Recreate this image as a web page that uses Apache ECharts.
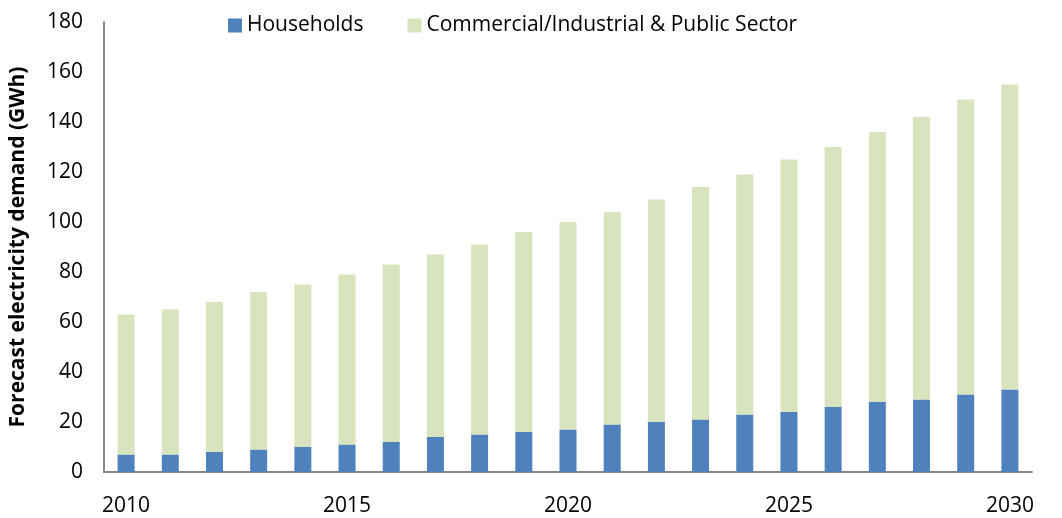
<!DOCTYPE html>
<html>
<head>
<meta charset="utf-8">
<title>Forecast electricity demand</title>
<script src="https://cdn.jsdelivr.net/npm/echarts@6/dist/echarts.min.js"></script>
<style>
  html, body { margin: 0; padding: 0; background: #fff; }
  #chart { width: 1062px; height: 518px; }
</style>
</head>
<body>
<div id="chart"></div>
<script>
// years on the x axis
var years = ['2010', '2011', '2012', '2013', '2014', '2015', '2016', '2017', '2018', '2019',
  '2020', '2021', '2022', '2023', '2024', '2025', '2026', '2027', '2028', '2029', '2030']
// GWh
var households = [7, 7, 8, 9, 10, 11, 12, 14, 15, 16, 17, 19, 20, 21, 23, 24, 26, 28, 29, 31, 33]
var commercial = [56, 58, 60, 63, 65, 68, 71, 73, 76, 80, 83, 85, 89, 93, 96, 101, 104, 108, 113, 118, 122]
var seriesNames = ['Households', 'Commercial/Industrial & Public Sector']
var yAxisTitle = 'Forecast electricity demand (GWh)'

var font = '"Open Sans", "Noto Sans", sans-serif'
var chart = echarts.init(document.getElementById('chart'))

var option = {
  backgroundColor: '#ffffff',
  animation: false,
  textStyle: { fontFamily: font },
  legend: {
    data: seriesNames,
    left: 223,
    top: 10,
    itemWidth: 14,
    itemHeight: 14,
    itemGap: 44,
    icon: 'rect',
    textStyle: { fontSize: 21, color: '#000', fontFamily: font }
  },
  grid: {
    left: 100,
    right: 30,
    top: 22,
    bottom: 46
  },
  xAxis: {
    type: 'category',
    data: years,
    axisLine: { lineStyle: { color: '#868686', width: 2 } },
    axisTick: { show: false },
    axisLabel: {
      interval: 4,
      margin: 24,
      fontSize: 21,
      color: '#000',
      fontFamily: font
    }
  },
  yAxis: {
    type: 'value',
    min: 0,
    max: 180,
    interval: 20,
    name: yAxisTitle,
    nameLocation: 'middle',
    nameGap: 75,
    nameRotate: 90,
    nameTextStyle: { fontSize: 21, fontWeight: 'bold', color: '#000', fontFamily: font },
    axisLine: { show: true, lineStyle: { color: '#868686', width: 2 } },
    axisTick: { show: false },
    splitLine: { show: false },
    axisLabel: {
      margin: 21,
      fontSize: 21,
      color: '#000',
      fontFamily: font
    }
  },
  series: [
    {
      name: seriesNames[0],
      type: 'bar',
      stack: 'total',
      barWidth: 17,
      itemStyle: { color: '#4F81BD' },
      data: households
    },
    {
      name: seriesNames[1],
      type: 'bar',
      stack: 'total',
      barWidth: 17,
      itemStyle: { color: '#D7E4BD' },
      data: commercial
    }
  ]
}

chart.setOption(option)
</script>
</body>
</html>
